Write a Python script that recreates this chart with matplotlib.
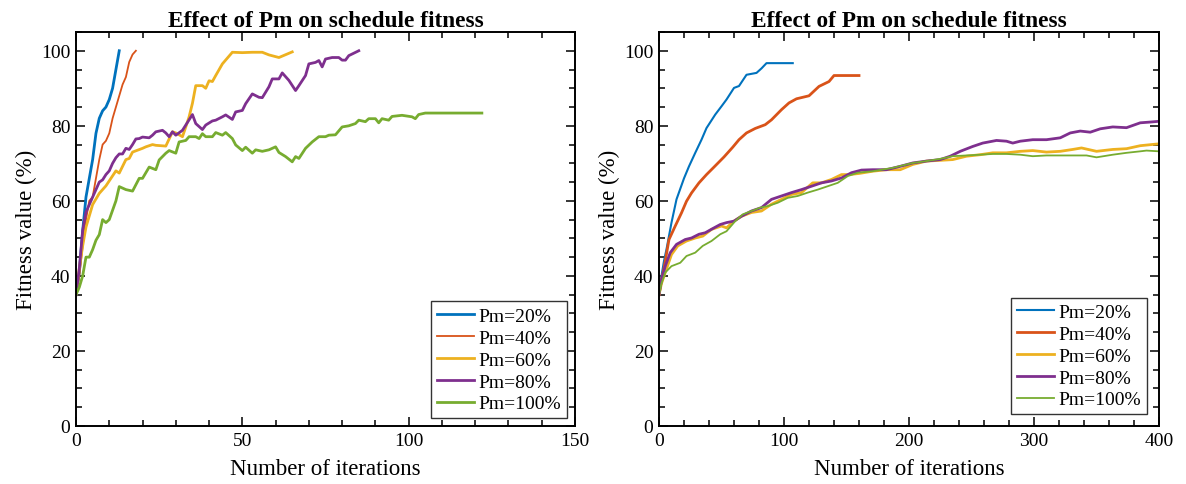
import matplotlib
matplotlib.use("Agg")
import matplotlib.pyplot as plt
from matplotlib.ticker import MultipleLocator

plt.rcParams['font.family'] = ['Liberation Serif', 'DejaVu Serif']
plt.rcParams['mathtext.fontset'] = 'stix'

labels = ["Pm=20%", "Pm=40%", "Pm=60%", "Pm=80%", "Pm=100%"]
colors = ["#0072BD", "#D95319", "#EDB120", "#7E2F8E", "#77AC30"]

# ---------------- Left panel data ----------------
l20_x = [0, 1, 2, 3, 4, 5, 6, 7, 8, 9, 10, 11, 12, 13]
l20_y = [35, 41, 52, 61, 66, 71, 78, 82, 84, 85, 87, 90, 95, 100]

l40_x = [0, 1, 2, 3, 4, 5, 6, 7, 8, 9, 10, 11, 12, 13, 14, 15, 16, 17, 18]
l40_y = [35, 40, 48, 55, 60, 61, 66, 71, 75, 76, 78, 82, 85, 88, 91, 93, 97, 99, 100]

l60_x = [0, 1, 2, 3, 4, 5, 7, 9, 12, 13, 15, 16, 17, 20, 21, 23, 24, 27, 29, 30,
         32, 33, 34, 35, 36, 38, 39, 40, 41, 42, 44, 47, 50, 53, 56, 58, 61, 65]
l60_y = [35, 42, 48, 53, 56, 59, 62, 64, 68, 67.4, 71, 71.3, 73, 74, 74.4, 75, 74.8, 74.6, 78.4, 78.1,
         77.1, 79.7, 82.4, 86, 90.7, 90.7, 90, 92, 91.8, 93.4, 96.5, 99.6, 99.5, 99.6, 99.6, 98.9, 98.2, 99.7]

l80_x = [0, 1, 2, 3, 4, 5, 6, 7, 8, 9, 10, 11, 12, 13, 14, 15, 16, 17, 18, 19,
         20, 22, 23, 24, 26, 27, 28, 29, 30, 32, 33, 35, 36, 38, 39, 41, 42, 44, 45, 47,
         48, 50, 51, 53, 55, 56, 58, 59, 61, 62, 64, 66, 67, 69, 70, 72, 73, 74, 75, 77,
         79, 80, 81, 82, 85]
l80_y = [35, 42, 52, 57, 59, 61, 63, 65, 65.6, 67, 68, 70, 71.5, 72.5, 72.5, 74, 73.7, 75, 76.5, 76.6,
         77, 76.8, 77.5, 78.4, 78.8, 78.1, 77.1, 78.4, 77.5, 78.8, 80.2, 83, 80.6, 79, 80.2, 81.3, 81.5, 82.4, 82.9, 81.7,
         83.7, 84.1, 85.9, 88.5, 87.6, 87.5, 90.4, 92.5, 92.5, 94.1, 92.1, 89.4, 90.7, 93.4, 96.5, 96.9, 97.4, 95.7, 97.8, 98.2,
         98.2, 97.5, 97.5, 98.7, 100]

l100_x = [0, 1, 2, 3, 4, 5, 6, 7, 8, 9, 10, 12, 13, 15, 17, 19, 20, 22, 24, 25,
          27, 28, 30, 31, 33, 34, 36, 37, 38, 39, 41, 42, 44, 45, 47, 48, 50, 51, 53, 54,
          56, 58, 60, 61, 63, 65, 66, 67, 69, 71, 73, 75, 76, 78, 80, 82, 84, 85, 87, 88,
          90, 91, 92, 94, 95, 98, 101, 102, 103, 105, 122]
l100_y = [35, 37, 40, 45, 45, 47, 49.5, 51, 55, 54.2, 55, 60, 63.8, 63, 62.6, 66, 66, 69, 68.3, 70.9,
          72.7, 73.4, 72.7, 75.7, 76.1, 77.1, 77.1, 76.6, 77.9, 77.1, 77.1, 78.2, 77.5, 78.2, 76.6, 74.9, 73.4, 74.3, 72.7, 73.6,
          73.2, 73.6, 74.4, 72.9, 71.8, 70.4, 71.8, 71.3, 74, 75.7, 77.1, 77.1, 77.5, 77.6, 79.7, 80, 80.6, 81.5, 81.1, 81.9,
          81.9, 80.8, 81.9, 81.5, 82.5, 82.8, 82.4, 81.9, 83, 83.4, 83.4]

# ---------------- Right panel data ----------------
r20_x = [0, 2, 4, 6, 10, 14, 20, 24, 29, 34, 38, 45, 50, 54, 60, 64, 70, 78, 82, 86, 107]
r20_y = [35, 40, 44, 47.1, 54.2, 60.4, 66, 69.2, 72.8, 76.3, 79.4, 83, 85.2, 87, 90.1, 90.6, 93.6, 94.1, 95.3, 96.7, 96.7]

r40_x = [0, 2, 4, 8, 13, 18, 22, 26, 32, 38, 44, 52, 59, 64, 70, 77, 85, 90, 98, 104,
         110, 120, 128, 136, 140, 160]
r40_y = [35, 39, 42, 49.7, 53.3, 56.8, 59.9, 62.1, 64.8, 67, 69, 71.7, 74.3, 76.3, 78.1, 79.3, 80.3, 81.6, 84.3, 86.1,
         87.2, 88, 90.5, 91.8, 93.4, 93.4]

r60_x = [0, 2, 5, 10, 15, 22, 29, 35, 42, 50, 54, 60, 66, 74, 82, 90, 98, 106, 114, 123,
         130, 138, 146, 152, 160, 171, 182, 193, 203, 214, 225, 235, 246, 257, 267, 278, 289, 299, 310, 321,
         331, 338, 350, 363, 374, 385, 400]
r60_y = [35, 38, 40.9, 45.7, 48, 49.3, 50.1, 50.6, 52.4, 53.3, 52.8, 54.6, 55.9, 56.9, 57.3, 59.1, 60.4, 61.7, 62.2, 64.8,
         64.8, 65.7, 67, 67, 67.3, 67.9, 68.3, 68.3, 69.7, 70.6, 70.8, 71, 71.9, 72.3, 72.8, 72.8, 73.2, 73.4, 73, 73.2,
         73.7, 74.1, 73.2, 73.7, 73.9, 74.7, 75.2]

r80_x = [0, 2, 5, 9, 14, 21, 26, 32, 37, 44, 49, 54, 60, 66, 74, 82, 90, 98, 106, 114,
         122, 130, 138, 146, 154, 162, 171, 182, 193, 203, 214, 225, 233, 241, 251, 259, 270, 278, 283, 289,
         299, 310, 321, 329, 337, 345, 353, 363, 374, 385, 393, 400]
r80_y = [35, 39, 42.6, 46.2, 48.4, 49.7, 50.1, 51.1, 51.5, 52.8, 53.7, 54.2, 54.6, 55.9, 57.3, 58.2, 60.4, 61.3, 62.2, 63,
         63.9, 64.8, 65.3, 66.1, 67.5, 68.2, 68.3, 68.3, 69.2, 70.1, 70.6, 71, 71.9, 73.2, 74.5, 75.4, 76.1, 75.9, 75.4, 75.9,
         76.3, 76.3, 76.8, 78.1, 78.6, 78.3, 79.2, 79.7, 79.5, 80.8, 81, 81.2]

r100_x = [0, 2, 5, 10, 17, 22, 29, 35, 42, 49, 54, 61, 67, 74, 81, 87, 95, 103, 111, 119,
          127, 135, 143, 151, 159, 171, 187, 203, 214, 225, 235, 246, 257, 267, 278, 289, 299, 310, 321, 342,
          350, 363, 374, 385, 390, 400]
r100_y = [35, 38, 40.9, 42.6, 43.5, 45.3, 46.2, 48, 49.3, 51.1, 51.9, 54.6, 56.4, 57.3, 58.2, 58.6, 59.5, 60.8, 61.3, 62.2,
          63, 63.9, 64.8, 66.6, 67.5, 67.9, 68.8, 70.1, 70.6, 71.2, 71.9, 72.1, 72.3, 72.5, 72.5, 72.3, 71.9, 72.1, 72.1, 72.1,
          71.6, 72.3, 72.8, 73.2, 73.4, 73.2]

left_series = [(l20_x, l20_y), (l40_x, l40_y), (l60_x, l60_y), (l80_x, l80_y), (l100_x, l100_y)]
right_series = [(r20_x, r20_y), (r40_x, r40_y), (r60_x, r60_y), (r80_x, r80_y), (r100_x, r100_y)]
left_lw = [2.0, 1.3, 2.0, 2.0, 2.0]
right_lw = [1.5, 2.0, 2.0, 2.0, 1.3]

fig = plt.figure(figsize=(11.86, 4.85), dpi=100)
ax1 = fig.add_axes([76 / 1186, 1 - 427 / 485, 499 / 1186, 394 / 485])
ax2 = fig.add_axes([659 / 1186, 1 - 427 / 485, 500 / 1186, 394 / 485])


def style(ax, xmax, xmajor, xminor):
    ax.set_xlim(0, xmax)
    ax.set_ylim(0, 105)
    ax.xaxis.set_major_locator(MultipleLocator(xmajor))
    ax.xaxis.set_minor_locator(MultipleLocator(xminor))
    ax.yaxis.set_major_locator(MultipleLocator(20))
    ax.yaxis.set_minor_locator(MultipleLocator(5))
    ax.tick_params(which='both', direction='in', top=True, right=True, width=1.1,
                   labelsize=14, color='black')
    ax.tick_params(which='major', length=6.5, pad=4)
    ax.tick_params(which='minor', length=4)
    for s in ax.spines.values():
        s.set_linewidth(1.4)
        s.set_color('black')
    ax.set_title("Effect of Pm on schedule fitness", fontsize=16.8, fontweight='bold', pad=4)
    ax.set_xlabel("Number of iterations", fontsize=16.5, labelpad=7)
    ax.set_ylabel("Fitness value (%)", fontsize=16.5, labelpad=3)


for (xs, ys), c, lab, lw in zip(left_series, colors, labels, left_lw):
    ax1.plot(xs, ys, color=c, lw=lw, label=lab)
for (xs, ys), c, lab, lw in zip(right_series, colors, labels, right_lw):
    ax2.plot(xs, ys, color=c, lw=lw, label=lab)

style(ax1, 150, 50, 10)
style(ax2, 400, 100, 20)

for ax, bap in ((ax1, 0.4), (ax2, 0.6)):
    leg = ax.legend(loc='lower right', fontsize=14, frameon=True, fancybox=False,
                    edgecolor='#333333', framealpha=1, handlelength=1.9,
                    handletextpad=0.25, labelspacing=0.22, borderpad=0.3,
                    borderaxespad=bap)
    leg.get_frame().set_linewidth(1.0)

fig.savefig("out.png", dpi=100)
